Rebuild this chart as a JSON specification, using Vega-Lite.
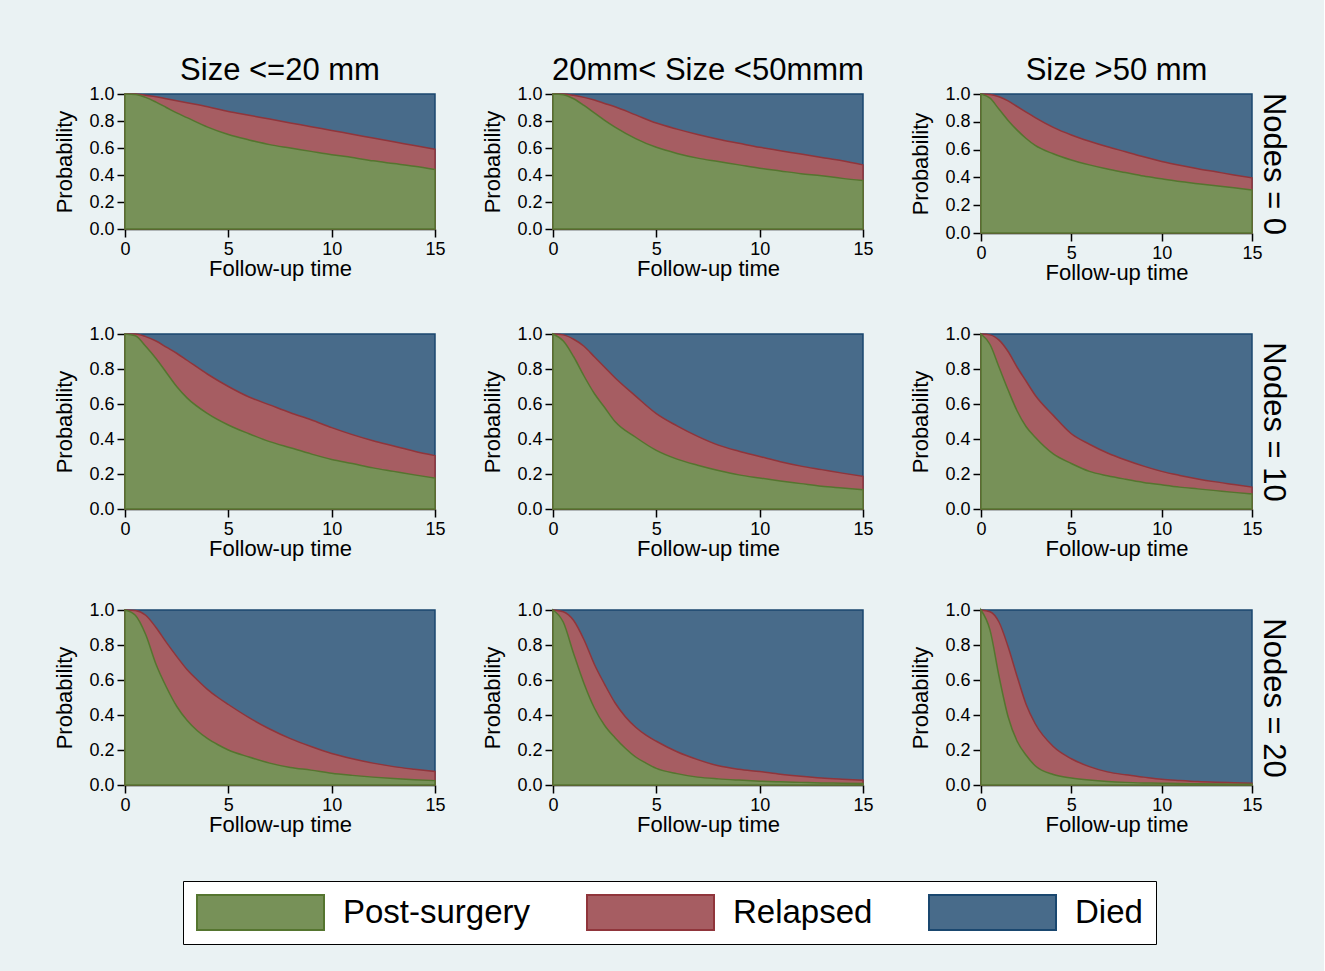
{
  "$schema": "https://vega.github.io/schema/vega-lite/v6.json",
  "background": "#EAF2F3",
  "padding": {"left": 53, "top": 55, "right": 36, "bottom": 27},
  "datasets": {
    "a": [
      {"t":0,"p":1,"r":1,"d":1},{"t":0.5,"p":0.997,"r":1,"d":1},{"t":1,"p":0.975,"r":0.99,"d":1},{"t":1.5,"p":0.94,"r":0.98,"d":1},{"t":2,"p":0.9,"r":0.965,"d":1},{"t":2.5,"p":0.86,"r":0.95,"d":1},{"t":3,"p":0.825,"r":0.935,"d":1},{"t":4,"p":0.755,"r":0.905,"d":1},{"t":5,"p":0.7,"r":0.87,"d":1},{"t":6,"p":0.66,"r":0.842,"d":1},{"t":7,"p":0.625,"r":0.814,"d":1},{"t":8,"p":0.6,"r":0.786,"d":1},{"t":9,"p":0.575,"r":0.758,"d":1},{"t":10,"p":0.55,"r":0.73,"d":1},{"t":11,"p":0.53,"r":0.702,"d":1},{"t":12,"p":0.505,"r":0.674,"d":1},{"t":13,"p":0.485,"r":0.646,"d":1},{"t":14,"p":0.465,"r":0.618,"d":1},{"t":15,"p":0.44,"r":0.59,"d":1}
    ],
    "b": [
      {"t":0,"p":1,"r":1,"d":1},{"t":0.5,"p":0.995,"r":1,"d":1},{"t":1,"p":0.965,"r":0.99,"d":1},{"t":1.5,"p":0.915,"r":0.975,"d":1},{"t":2,"p":0.86,"r":0.955,"d":1},{"t":2.5,"p":0.805,"r":0.93,"d":1},{"t":3,"p":0.755,"r":0.905,"d":1},{"t":4,"p":0.67,"r":0.845,"d":1},{"t":5,"p":0.605,"r":0.785,"d":1},{"t":6,"p":0.56,"r":0.74,"d":1},{"t":7,"p":0.525,"r":0.7,"d":1},{"t":8,"p":0.5,"r":0.665,"d":1},{"t":9,"p":0.475,"r":0.635,"d":1},{"t":10,"p":0.45,"r":0.605,"d":1},{"t":11,"p":0.43,"r":0.58,"d":1},{"t":12,"p":0.41,"r":0.555,"d":1},{"t":13,"p":0.395,"r":0.53,"d":1},{"t":14,"p":0.375,"r":0.505,"d":1},{"t":15,"p":0.36,"r":0.475,"d":1}
    ],
    "c": [
      {"t":0,"p":1,"r":1,"d":1},{"t":0.5,"p":0.97,"r":0.997,"d":1},{"t":1,"p":0.89,"r":0.98,"d":1},{"t":1.5,"p":0.81,"r":0.95,"d":1},{"t":2,"p":0.74,"r":0.91,"d":1},{"t":2.5,"p":0.68,"r":0.87,"d":1},{"t":3,"p":0.63,"r":0.83,"d":1},{"t":4,"p":0.57,"r":0.76,"d":1},{"t":5,"p":0.525,"r":0.705,"d":1},{"t":6,"p":0.49,"r":0.66,"d":1},{"t":7,"p":0.46,"r":0.62,"d":1},{"t":8,"p":0.435,"r":0.585,"d":1},{"t":9,"p":0.41,"r":0.548,"d":1},{"t":10,"p":0.39,"r":0.515,"d":1},{"t":11,"p":0.37,"r":0.487,"d":1},{"t":12,"p":0.355,"r":0.462,"d":1},{"t":13,"p":0.34,"r":0.44,"d":1},{"t":14,"p":0.325,"r":0.418,"d":1},{"t":15,"p":0.31,"r":0.397,"d":1}
    ],
    "d": [
      {"t":0,"p":1,"r":1,"d":1},{"t":0.5,"p":0.99,"r":1,"d":1},{"t":1,"p":0.93,"r":0.985,"d":1},{"t":1.5,"p":0.86,"r":0.96,"d":1},{"t":2,"p":0.78,"r":0.925,"d":1},{"t":2.5,"p":0.7,"r":0.89,"d":1},{"t":3,"p":0.635,"r":0.85,"d":1},{"t":4,"p":0.545,"r":0.77,"d":1},{"t":5,"p":0.48,"r":0.7,"d":1},{"t":6,"p":0.43,"r":0.64,"d":1},{"t":7,"p":0.385,"r":0.595,"d":1},{"t":8,"p":0.35,"r":0.55,"d":1},{"t":9,"p":0.315,"r":0.51,"d":1},{"t":10,"p":0.283,"r":0.465,"d":1},{"t":11,"p":0.26,"r":0.425,"d":1},{"t":12,"p":0.235,"r":0.39,"d":1},{"t":13,"p":0.215,"r":0.36,"d":1},{"t":14,"p":0.195,"r":0.33,"d":1},{"t":15,"p":0.177,"r":0.305,"d":1}
    ],
    "e": [
      {"t":0,"p":1,"r":1,"d":1},{"t":0.5,"p":0.96,"r":0.995,"d":1},{"t":1,"p":0.87,"r":0.97,"d":1},{"t":1.5,"p":0.76,"r":0.93,"d":1},{"t":2,"p":0.66,"r":0.87,"d":1},{"t":2.5,"p":0.58,"r":0.81,"d":1},{"t":3,"p":0.5,"r":0.75,"d":1},{"t":4,"p":0.41,"r":0.645,"d":1},{"t":5,"p":0.335,"r":0.545,"d":1},{"t":6,"p":0.285,"r":0.475,"d":1},{"t":7,"p":0.25,"r":0.415,"d":1},{"t":8,"p":0.22,"r":0.365,"d":1},{"t":9,"p":0.195,"r":0.33,"d":1},{"t":10,"p":0.177,"r":0.3,"d":1},{"t":11,"p":0.16,"r":0.27,"d":1},{"t":12,"p":0.145,"r":0.245,"d":1},{"t":13,"p":0.13,"r":0.225,"d":1},{"t":14,"p":0.12,"r":0.205,"d":1},{"t":15,"p":0.11,"r":0.187,"d":1}
    ],
    "f": [
      {"t":0,"p":1,"r":1,"d":1},{"t":0.5,"p":0.94,"r":0.995,"d":1},{"t":1,"p":0.81,"r":0.965,"d":1},{"t":1.5,"p":0.68,"r":0.9,"d":1},{"t":2,"p":0.56,"r":0.81,"d":1},{"t":2.5,"p":0.47,"r":0.73,"d":1},{"t":3,"p":0.41,"r":0.65,"d":1},{"t":4,"p":0.315,"r":0.535,"d":1},{"t":5,"p":0.26,"r":0.43,"d":1},{"t":6,"p":0.215,"r":0.37,"d":1},{"t":7,"p":0.19,"r":0.32,"d":1},{"t":8,"p":0.17,"r":0.28,"d":1},{"t":9,"p":0.152,"r":0.245,"d":1},{"t":10,"p":0.138,"r":0.215,"d":1},{"t":11,"p":0.125,"r":0.192,"d":1},{"t":12,"p":0.115,"r":0.172,"d":1},{"t":13,"p":0.105,"r":0.155,"d":1},{"t":14,"p":0.095,"r":0.14,"d":1},{"t":15,"p":0.086,"r":0.125,"d":1}
    ],
    "g": [
      {"t":0,"p":1,"r":1,"d":1},{"t":0.5,"p":0.97,"r":0.997,"d":1},{"t":1,"p":0.86,"r":0.97,"d":1},{"t":1.5,"p":0.69,"r":0.9,"d":1},{"t":2,"p":0.56,"r":0.815,"d":1},{"t":2.5,"p":0.45,"r":0.735,"d":1},{"t":3,"p":0.37,"r":0.66,"d":1},{"t":3.5,"p":0.31,"r":0.6,"d":1},{"t":4,"p":0.265,"r":0.545,"d":1},{"t":4.5,"p":0.23,"r":0.5,"d":1},{"t":5,"p":0.2,"r":0.46,"d":1},{"t":6,"p":0.16,"r":0.385,"d":1},{"t":7,"p":0.125,"r":0.32,"d":1},{"t":8,"p":0.1,"r":0.265,"d":1},{"t":9,"p":0.085,"r":0.22,"d":1},{"t":10,"p":0.067,"r":0.18,"d":1},{"t":11,"p":0.055,"r":0.15,"d":1},{"t":12,"p":0.045,"r":0.125,"d":1},{"t":13,"p":0.037,"r":0.105,"d":1},{"t":14,"p":0.03,"r":0.09,"d":1},{"t":15,"p":0.025,"r":0.077,"d":1}
    ],
    "h": [
      {"t":0,"p":1,"r":1,"d":1},{"t":0.5,"p":0.93,"r":0.99,"d":1},{"t":1,"p":0.75,"r":0.94,"d":1},{"t":1.5,"p":0.58,"r":0.83,"d":1},{"t":2,"p":0.44,"r":0.69,"d":1},{"t":2.5,"p":0.34,"r":0.575,"d":1},{"t":3,"p":0.27,"r":0.47,"d":1},{"t":3.5,"p":0.21,"r":0.39,"d":1},{"t":4,"p":0.16,"r":0.33,"d":1},{"t":4.5,"p":0.125,"r":0.285,"d":1},{"t":5,"p":0.095,"r":0.25,"d":1},{"t":6,"p":0.065,"r":0.19,"d":1},{"t":7,"p":0.045,"r":0.145,"d":1},{"t":8,"p":0.035,"r":0.11,"d":1},{"t":9,"p":0.028,"r":0.09,"d":1},{"t":10,"p":0.022,"r":0.077,"d":1},{"t":11,"p":0.018,"r":0.062,"d":1},{"t":12,"p":0.015,"r":0.05,"d":1},{"t":13,"p":0.012,"r":0.04,"d":1},{"t":14,"p":0.01,"r":0.033,"d":1},{"t":15,"p":0.008,"r":0.027,"d":1}
    ],
    "i": [
      {"t":0,"p":1,"r":1,"d":1},{"t":0.5,"p":0.885,"r":0.99,"d":1},{"t":1,"p":0.62,"r":0.93,"d":1},{"t":1.5,"p":0.39,"r":0.79,"d":1},{"t":2,"p":0.25,"r":0.62,"d":1},{"t":2.5,"p":0.17,"r":0.46,"d":1},{"t":3,"p":0.11,"r":0.35,"d":1},{"t":4,"p":0.06,"r":0.22,"d":1},{"t":5,"p":0.04,"r":0.15,"d":1},{"t":6,"p":0.028,"r":0.105,"d":1},{"t":7,"p":0.02,"r":0.075,"d":1},{"t":8,"p":0.015,"r":0.058,"d":1},{"t":9,"p":0.012,"r":0.045,"d":1},{"t":10,"p":0.01,"r":0.033,"d":1},{"t":11,"p":0.008,"r":0.026,"d":1},{"t":12,"p":0.007,"r":0.02,"d":1},{"t":13,"p":0.006,"r":0.016,"d":1},{"t":14,"p":0.005,"r":0.013,"d":1},{"t":15,"p":0.005,"r":0.01,"d":1}
    ]
  },
  "columns": 3,
  "spacing": {"row": 101, "column": 118},
  "bounds": "flush",
  "resolve": {"scale": {"fill": "shared", "stroke": "shared"}, "legend": {"fill": "shared", "stroke": "shared"}},
  "concat": [
    {
      "width": 310, "height": 135,
      "title": "Size <=20 mm",
      "data": {"name": "a"},
      "encoding": {"x": {"field": "t", "type": "quantitative", "scale": {"domain": [0, 15]}, "axis": {"values": [0, 5, 10, 15], "title": "Follow-up time"}}},
      "layer": [
        {"mark": {"type": "area", "interpolate": "monotone", "strokeWidth": 1.5},
         "encoding": {"y": {"field": "d", "type": "quantitative", "title": "Probability", "scale": {"domain": [0, 1]}},
           "fill": {"datum": "Died", "type": "nominal", "scale": {"domain": ["Post-surgery", "Relapsed", "Died"], "range": ["#779158", "#A65D62", "#486B8A"]},
             "legend": {"title": null, "orient": "none", "legendX": 58, "legendY": 787, "direction": "horizontal",
               "symbolType": "M-1,-0.2756H1V0.2756H-1Z", "symbolSize": 16129, "symbolStrokeWidth": 2, "clipHeight": 37,
               "labelFontSize": 33, "labelFont": "Liberation Sans", "labelColor": "black", "labelOffset": 18, "labelLimit": 0, "columnPadding": 55,
               "padding": 13, "fillColor": "white", "strokeColor": "black", "cornerRadius": 0,
               "encode": {"symbols": {"update": {"strokeWidth": {"value": 2}, "opacity": {"value": 1}}},
                          "legend": {"update": {"strokeWidth": {"value": 2}}}}}},
           "stroke": {"datum": "Died", "type": "nominal", "scale": {"domain": ["Post-surgery", "Relapsed", "Died"], "range": ["#55752F", "#90353B", "#1A476F"]}}}},
        {"mark": {"type": "area", "interpolate": "monotone", "strokeWidth": 1.5},
         "encoding": {"y": {"field": "r", "type": "quantitative", "title": "Probability", "scale": {"domain": [0, 1]}},
           "fill": {"datum": "Relapsed", "type": "nominal", "scale": {"domain": ["Post-surgery", "Relapsed", "Died"], "range": ["#779158", "#A65D62", "#486B8A"]}},
           "stroke": {"datum": "Relapsed", "type": "nominal", "scale": {"domain": ["Post-surgery", "Relapsed", "Died"], "range": ["#55752F", "#90353B", "#1A476F"]}}}},
        {"mark": {"type": "area", "interpolate": "monotone", "strokeWidth": 1.5},
         "encoding": {"y": {"field": "p", "type": "quantitative", "title": "Probability", "scale": {"domain": [0, 1]}},
           "fill": {"datum": "Post-surgery", "type": "nominal", "scale": {"domain": ["Post-surgery", "Relapsed", "Died"], "range": ["#779158", "#A65D62", "#486B8A"]}},
           "stroke": {"datum": "Post-surgery", "type": "nominal", "scale": {"domain": ["Post-surgery", "Relapsed", "Died"], "range": ["#55752F", "#90353B", "#1A476F"]}}}}
      ]
    },
    {
      "width": 310, "height": 135,
      "title": "20mm< Size <50mmm",
      "data": {"name": "b"},
      "encoding": {"x": {"field": "t", "type": "quantitative", "scale": {"domain": [0, 15]}, "axis": {"values": [0, 5, 10, 15], "title": "Follow-up time"}}},
      "layer": [
        {"mark": {"type": "area", "interpolate": "monotone", "strokeWidth": 1.5},
         "encoding": {"y": {"field": "d", "type": "quantitative", "title": "Probability", "scale": {"domain": [0, 1]}},
           "fill": {"datum": "Died", "type": "nominal", "scale": {"domain": ["Post-surgery", "Relapsed", "Died"], "range": ["#779158", "#A65D62", "#486B8A"]}},
           "stroke": {"datum": "Died", "type": "nominal", "scale": {"domain": ["Post-surgery", "Relapsed", "Died"], "range": ["#55752F", "#90353B", "#1A476F"]}}}},
        {"mark": {"type": "area", "interpolate": "monotone", "strokeWidth": 1.5},
         "encoding": {"y": {"field": "r", "type": "quantitative", "title": "Probability", "scale": {"domain": [0, 1]}},
           "fill": {"datum": "Relapsed", "type": "nominal", "scale": {"domain": ["Post-surgery", "Relapsed", "Died"], "range": ["#779158", "#A65D62", "#486B8A"]}},
           "stroke": {"datum": "Relapsed", "type": "nominal", "scale": {"domain": ["Post-surgery", "Relapsed", "Died"], "range": ["#55752F", "#90353B", "#1A476F"]}}}},
        {"mark": {"type": "area", "interpolate": "monotone", "strokeWidth": 1.5},
         "encoding": {"y": {"field": "p", "type": "quantitative", "title": "Probability", "scale": {"domain": [0, 1]}},
           "fill": {"datum": "Post-surgery", "type": "nominal", "scale": {"domain": ["Post-surgery", "Relapsed", "Died"], "range": ["#779158", "#A65D62", "#486B8A"]}},
           "stroke": {"datum": "Post-surgery", "type": "nominal", "scale": {"domain": ["Post-surgery", "Relapsed", "Died"], "range": ["#55752F", "#90353B", "#1A476F"]}}}}
      ]
    },
    {
      "width": 271, "height": 139,
      "title": "Size >50 mm",
      "data": {"name": "c"},
      "resolve": {"scale": {"y": "independent"}},
      "encoding": {"x": {"field": "t", "type": "quantitative", "scale": {"domain": [0, 15]}, "axis": {"values": [0, 5, 10, 15], "title": "Follow-up time"}}},
      "layer": [
        {"mark": {"type": "area", "interpolate": "monotone", "strokeWidth": 1.5},
         "encoding": {"y": {"field": "d", "type": "quantitative", "title": "Probability", "scale": {"domain": [0, 1]}, "axis": {"orient": "left"}},
           "fill": {"datum": "Died", "type": "nominal", "scale": {"domain": ["Post-surgery", "Relapsed", "Died"], "range": ["#779158", "#A65D62", "#486B8A"]}},
           "stroke": {"datum": "Died", "type": "nominal", "scale": {"domain": ["Post-surgery", "Relapsed", "Died"], "range": ["#55752F", "#90353B", "#1A476F"]}}}},
        {"mark": {"type": "area", "interpolate": "monotone", "strokeWidth": 1.5},
         "encoding": {"y": {"field": "r", "type": "quantitative", "title": "Nodes = 0", "scale": {"domain": [0, 1]},
             "axis": {"orient": "right", "labels": false, "ticks": false, "domain": false, "titleFontSize": 31, "titlePadding": 4, "titleAngle": 90}},
           "fill": {"datum": "Relapsed", "type": "nominal", "scale": {"domain": ["Post-surgery", "Relapsed", "Died"], "range": ["#779158", "#A65D62", "#486B8A"]}},
           "stroke": {"datum": "Relapsed", "type": "nominal", "scale": {"domain": ["Post-surgery", "Relapsed", "Died"], "range": ["#55752F", "#90353B", "#1A476F"]}}}},
        {"mark": {"type": "area", "interpolate": "monotone", "strokeWidth": 1.5},
         "encoding": {"y": {"field": "p", "type": "quantitative", "scale": {"domain": [0, 1]}, "axis": null},
           "fill": {"datum": "Post-surgery", "type": "nominal", "scale": {"domain": ["Post-surgery", "Relapsed", "Died"], "range": ["#779158", "#A65D62", "#486B8A"]}},
           "stroke": {"datum": "Post-surgery", "type": "nominal", "scale": {"domain": ["Post-surgery", "Relapsed", "Died"], "range": ["#55752F", "#90353B", "#1A476F"]}}}}
      ]
    },
    {
      "width": 310, "height": 175,
      "data": {"name": "d"},
      "encoding": {"x": {"field": "t", "type": "quantitative", "scale": {"domain": [0, 15]}, "axis": {"values": [0, 5, 10, 15], "title": "Follow-up time"}}},
      "layer": [
        {"mark": {"type": "area", "interpolate": "monotone", "strokeWidth": 1.5},
         "encoding": {"y": {"field": "d", "type": "quantitative", "title": "Probability", "scale": {"domain": [0, 1]}},
           "fill": {"datum": "Died", "type": "nominal", "scale": {"domain": ["Post-surgery", "Relapsed", "Died"], "range": ["#779158", "#A65D62", "#486B8A"]}},
           "stroke": {"datum": "Died", "type": "nominal", "scale": {"domain": ["Post-surgery", "Relapsed", "Died"], "range": ["#55752F", "#90353B", "#1A476F"]}}}},
        {"mark": {"type": "area", "interpolate": "monotone", "strokeWidth": 1.5},
         "encoding": {"y": {"field": "r", "type": "quantitative", "title": "Probability", "scale": {"domain": [0, 1]}},
           "fill": {"datum": "Relapsed", "type": "nominal", "scale": {"domain": ["Post-surgery", "Relapsed", "Died"], "range": ["#779158", "#A65D62", "#486B8A"]}},
           "stroke": {"datum": "Relapsed", "type": "nominal", "scale": {"domain": ["Post-surgery", "Relapsed", "Died"], "range": ["#55752F", "#90353B", "#1A476F"]}}}},
        {"mark": {"type": "area", "interpolate": "monotone", "strokeWidth": 1.5},
         "encoding": {"y": {"field": "p", "type": "quantitative", "title": "Probability", "scale": {"domain": [0, 1]}},
           "fill": {"datum": "Post-surgery", "type": "nominal", "scale": {"domain": ["Post-surgery", "Relapsed", "Died"], "range": ["#779158", "#A65D62", "#486B8A"]}},
           "stroke": {"datum": "Post-surgery", "type": "nominal", "scale": {"domain": ["Post-surgery", "Relapsed", "Died"], "range": ["#55752F", "#90353B", "#1A476F"]}}}}
      ]
    },
    {
      "width": 310, "height": 175,
      "data": {"name": "e"},
      "encoding": {"x": {"field": "t", "type": "quantitative", "scale": {"domain": [0, 15]}, "axis": {"values": [0, 5, 10, 15], "title": "Follow-up time"}}},
      "layer": [
        {"mark": {"type": "area", "interpolate": "monotone", "strokeWidth": 1.5},
         "encoding": {"y": {"field": "d", "type": "quantitative", "title": "Probability", "scale": {"domain": [0, 1]}},
           "fill": {"datum": "Died", "type": "nominal", "scale": {"domain": ["Post-surgery", "Relapsed", "Died"], "range": ["#779158", "#A65D62", "#486B8A"]}},
           "stroke": {"datum": "Died", "type": "nominal", "scale": {"domain": ["Post-surgery", "Relapsed", "Died"], "range": ["#55752F", "#90353B", "#1A476F"]}}}},
        {"mark": {"type": "area", "interpolate": "monotone", "strokeWidth": 1.5},
         "encoding": {"y": {"field": "r", "type": "quantitative", "title": "Probability", "scale": {"domain": [0, 1]}},
           "fill": {"datum": "Relapsed", "type": "nominal", "scale": {"domain": ["Post-surgery", "Relapsed", "Died"], "range": ["#779158", "#A65D62", "#486B8A"]}},
           "stroke": {"datum": "Relapsed", "type": "nominal", "scale": {"domain": ["Post-surgery", "Relapsed", "Died"], "range": ["#55752F", "#90353B", "#1A476F"]}}}},
        {"mark": {"type": "area", "interpolate": "monotone", "strokeWidth": 1.5},
         "encoding": {"y": {"field": "p", "type": "quantitative", "title": "Probability", "scale": {"domain": [0, 1]}},
           "fill": {"datum": "Post-surgery", "type": "nominal", "scale": {"domain": ["Post-surgery", "Relapsed", "Died"], "range": ["#779158", "#A65D62", "#486B8A"]}},
           "stroke": {"datum": "Post-surgery", "type": "nominal", "scale": {"domain": ["Post-surgery", "Relapsed", "Died"], "range": ["#55752F", "#90353B", "#1A476F"]}}}}
      ]
    },
    {
      "width": 271, "height": 175,
      "data": {"name": "f"},
      "resolve": {"scale": {"y": "independent"}},
      "encoding": {"x": {"field": "t", "type": "quantitative", "scale": {"domain": [0, 15]}, "axis": {"values": [0, 5, 10, 15], "title": "Follow-up time"}}},
      "layer": [
        {"mark": {"type": "area", "interpolate": "monotone", "strokeWidth": 1.5},
         "encoding": {"y": {"field": "d", "type": "quantitative", "title": "Probability", "scale": {"domain": [0, 1]}, "axis": {"orient": "left"}},
           "fill": {"datum": "Died", "type": "nominal", "scale": {"domain": ["Post-surgery", "Relapsed", "Died"], "range": ["#779158", "#A65D62", "#486B8A"]}},
           "stroke": {"datum": "Died", "type": "nominal", "scale": {"domain": ["Post-surgery", "Relapsed", "Died"], "range": ["#55752F", "#90353B", "#1A476F"]}}}},
        {"mark": {"type": "area", "interpolate": "monotone", "strokeWidth": 1.5},
         "encoding": {"y": {"field": "r", "type": "quantitative", "title": "Nodes = 10", "scale": {"domain": [0, 1]},
             "axis": {"orient": "right", "labels": false, "ticks": false, "domain": false, "titleFontSize": 31, "titlePadding": 4, "titleAngle": 90}},
           "fill": {"datum": "Relapsed", "type": "nominal", "scale": {"domain": ["Post-surgery", "Relapsed", "Died"], "range": ["#779158", "#A65D62", "#486B8A"]}},
           "stroke": {"datum": "Relapsed", "type": "nominal", "scale": {"domain": ["Post-surgery", "Relapsed", "Died"], "range": ["#55752F", "#90353B", "#1A476F"]}}}},
        {"mark": {"type": "area", "interpolate": "monotone", "strokeWidth": 1.5},
         "encoding": {"y": {"field": "p", "type": "quantitative", "scale": {"domain": [0, 1]}, "axis": null},
           "fill": {"datum": "Post-surgery", "type": "nominal", "scale": {"domain": ["Post-surgery", "Relapsed", "Died"], "range": ["#779158", "#A65D62", "#486B8A"]}},
           "stroke": {"datum": "Post-surgery", "type": "nominal", "scale": {"domain": ["Post-surgery", "Relapsed", "Died"], "range": ["#55752F", "#90353B", "#1A476F"]}}}}
      ]
    },
    {
      "width": 310, "height": 175,
      "data": {"name": "g"},
      "encoding": {"x": {"field": "t", "type": "quantitative", "scale": {"domain": [0, 15]}, "axis": {"values": [0, 5, 10, 15], "title": "Follow-up time"}}},
      "layer": [
        {"mark": {"type": "area", "interpolate": "monotone", "strokeWidth": 1.5},
         "encoding": {"y": {"field": "d", "type": "quantitative", "title": "Probability", "scale": {"domain": [0, 1]}},
           "fill": {"datum": "Died", "type": "nominal", "scale": {"domain": ["Post-surgery", "Relapsed", "Died"], "range": ["#779158", "#A65D62", "#486B8A"]}},
           "stroke": {"datum": "Died", "type": "nominal", "scale": {"domain": ["Post-surgery", "Relapsed", "Died"], "range": ["#55752F", "#90353B", "#1A476F"]}}}},
        {"mark": {"type": "area", "interpolate": "monotone", "strokeWidth": 1.5},
         "encoding": {"y": {"field": "r", "type": "quantitative", "title": "Probability", "scale": {"domain": [0, 1]}},
           "fill": {"datum": "Relapsed", "type": "nominal", "scale": {"domain": ["Post-surgery", "Relapsed", "Died"], "range": ["#779158", "#A65D62", "#486B8A"]}},
           "stroke": {"datum": "Relapsed", "type": "nominal", "scale": {"domain": ["Post-surgery", "Relapsed", "Died"], "range": ["#55752F", "#90353B", "#1A476F"]}}}},
        {"mark": {"type": "area", "interpolate": "monotone", "strokeWidth": 1.5},
         "encoding": {"y": {"field": "p", "type": "quantitative", "title": "Probability", "scale": {"domain": [0, 1]}},
           "fill": {"datum": "Post-surgery", "type": "nominal", "scale": {"domain": ["Post-surgery", "Relapsed", "Died"], "range": ["#779158", "#A65D62", "#486B8A"]}},
           "stroke": {"datum": "Post-surgery", "type": "nominal", "scale": {"domain": ["Post-surgery", "Relapsed", "Died"], "range": ["#55752F", "#90353B", "#1A476F"]}}}}
      ]
    },
    {
      "width": 310, "height": 175,
      "data": {"name": "h"},
      "encoding": {"x": {"field": "t", "type": "quantitative", "scale": {"domain": [0, 15]}, "axis": {"values": [0, 5, 10, 15], "title": "Follow-up time"}}},
      "layer": [
        {"mark": {"type": "area", "interpolate": "monotone", "strokeWidth": 1.5},
         "encoding": {"y": {"field": "d", "type": "quantitative", "title": "Probability", "scale": {"domain": [0, 1]}},
           "fill": {"datum": "Died", "type": "nominal", "scale": {"domain": ["Post-surgery", "Relapsed", "Died"], "range": ["#779158", "#A65D62", "#486B8A"]}},
           "stroke": {"datum": "Died", "type": "nominal", "scale": {"domain": ["Post-surgery", "Relapsed", "Died"], "range": ["#55752F", "#90353B", "#1A476F"]}}}},
        {"mark": {"type": "area", "interpolate": "monotone", "strokeWidth": 1.5},
         "encoding": {"y": {"field": "r", "type": "quantitative", "title": "Probability", "scale": {"domain": [0, 1]}},
           "fill": {"datum": "Relapsed", "type": "nominal", "scale": {"domain": ["Post-surgery", "Relapsed", "Died"], "range": ["#779158", "#A65D62", "#486B8A"]}},
           "stroke": {"datum": "Relapsed", "type": "nominal", "scale": {"domain": ["Post-surgery", "Relapsed", "Died"], "range": ["#55752F", "#90353B", "#1A476F"]}}}},
        {"mark": {"type": "area", "interpolate": "monotone", "strokeWidth": 1.5},
         "encoding": {"y": {"field": "p", "type": "quantitative", "title": "Probability", "scale": {"domain": [0, 1]}},
           "fill": {"datum": "Post-surgery", "type": "nominal", "scale": {"domain": ["Post-surgery", "Relapsed", "Died"], "range": ["#779158", "#A65D62", "#486B8A"]}},
           "stroke": {"datum": "Post-surgery", "type": "nominal", "scale": {"domain": ["Post-surgery", "Relapsed", "Died"], "range": ["#55752F", "#90353B", "#1A476F"]}}}}
      ]
    },
    {
      "width": 271, "height": 175,
      "data": {"name": "i"},
      "resolve": {"scale": {"y": "independent"}},
      "encoding": {"x": {"field": "t", "type": "quantitative", "scale": {"domain": [0, 15]}, "axis": {"values": [0, 5, 10, 15], "title": "Follow-up time"}}},
      "layer": [
        {"mark": {"type": "area", "interpolate": "monotone", "strokeWidth": 1.5},
         "encoding": {"y": {"field": "d", "type": "quantitative", "title": "Probability", "scale": {"domain": [0, 1]}, "axis": {"orient": "left"}},
           "fill": {"datum": "Died", "type": "nominal", "scale": {"domain": ["Post-surgery", "Relapsed", "Died"], "range": ["#779158", "#A65D62", "#486B8A"]}},
           "stroke": {"datum": "Died", "type": "nominal", "scale": {"domain": ["Post-surgery", "Relapsed", "Died"], "range": ["#55752F", "#90353B", "#1A476F"]}}}},
        {"mark": {"type": "area", "interpolate": "monotone", "strokeWidth": 1.5},
         "encoding": {"y": {"field": "r", "type": "quantitative", "title": "Nodes = 20", "scale": {"domain": [0, 1]},
             "axis": {"orient": "right", "labels": false, "ticks": false, "domain": false, "titleFontSize": 31, "titlePadding": 4, "titleAngle": 90}},
           "fill": {"datum": "Relapsed", "type": "nominal", "scale": {"domain": ["Post-surgery", "Relapsed", "Died"], "range": ["#779158", "#A65D62", "#486B8A"]}},
           "stroke": {"datum": "Relapsed", "type": "nominal", "scale": {"domain": ["Post-surgery", "Relapsed", "Died"], "range": ["#55752F", "#90353B", "#1A476F"]}}}},
        {"mark": {"type": "area", "interpolate": "monotone", "strokeWidth": 1.5},
         "encoding": {"y": {"field": "p", "type": "quantitative", "scale": {"domain": [0, 1]}, "axis": null},
           "fill": {"datum": "Post-surgery", "type": "nominal", "scale": {"domain": ["Post-surgery", "Relapsed", "Died"], "range": ["#779158", "#A65D62", "#486B8A"]}},
           "stroke": {"datum": "Post-surgery", "type": "nominal", "scale": {"domain": ["Post-surgery", "Relapsed", "Died"], "range": ["#55752F", "#90353B", "#1A476F"]}}}}
      ]
    }
  ],
  "config": {
    "font": "Liberation Sans",
    "view": {"stroke": null},
    "title": {"fontSize": 31, "fontWeight": "normal", "color": "black", "frame": "group", "anchor": "middle", "offset": -2, "font": "Liberation Sans"},
    "axis": {"grid": false, "domainColor": "black", "tickColor": "black", "labelColor": "black", "titleColor": "black",
      "labelFont": "Liberation Sans", "titleFont": "Liberation Sans", "labelFontSize": 18, "titleFontSize": 22, "titleFontWeight": "normal",
      "tickSize": 8, "tickWidth": 1.5, "domainWidth": 1.5, "labelPadding": 3, "zindex": 1},
    "axisX": {"labelFlush": false, "titlePadding": 0},
    "axisY": {"values": [0, 0.2, 0.4, 0.6, 0.8, 1], "format": ".1f", "titlePadding": 12}
  }
}
